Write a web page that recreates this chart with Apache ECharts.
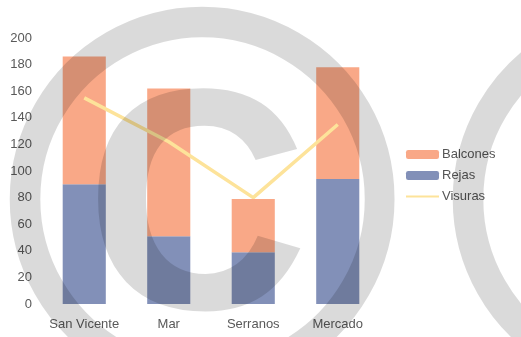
<!DOCTYPE html>
<html>
<head>
<meta charset="utf-8">
<script src="https://cdn.jsdelivr.net/npm/echarts@6/dist/echarts.min.js"></script>
<style>
  html, body { margin: 0; padding: 0; background: #fff; }
  #chart { width: 521px; height: 337px; }
</style>
</head>
<body>
<div id="chart"></div>
<script>
// Obras por calle
const categories = ['San Vicente', 'Mar', 'Serranos', 'Mercado'];
const rejas = [90, 51, 39, 94];
const balcones = [96, 111, 40, 84];
const visuras = [155, 122, 80, 135];
const yTicks = { min: 0, max: 200, interval: 20 };

const textColor = '#595959';
const chart = echarts.init(document.getElementById('chart'));

const mark = (x, y) => ({
  type: 'text', z: 100, silent: true, x: x, y: y,
  style: {
    text: '\u00A9', font: 'bold 545px "Liberation Sans"',
    fill: 'rgba(0,0,0,0.145)', align: 'center', verticalAlign: 'middle'
  }
});

chart.setOption({
  animation: false,
  backgroundColor: '#ffffff',
  textStyle: { fontFamily: 'Liberation Sans, Arial, sans-serif' },
  grid: { left: 42, right: 141, top: 38, bottom: 33 },
  legend: {
    orient: 'vertical',
    left: 400,
    top: 143,
    itemWidth: 33,
    itemHeight: 9,
    itemGap: 8,
    data: ['Balcones', 'Rejas', { name: 'Visuras', itemStyle: { opacity: 0 } }],
    textStyle: { color: '#555555', fontSize: 13, padding: [0, 0, 0, -2] }
  },
  xAxis: {
    type: 'category',
    data: categories,
    axisLine: { show: false },
    axisTick: { show: false },
    axisLabel: { color: textColor, fontSize: 13, margin: 14, interval: 0 }
  },
  yAxis: {
    type: 'value',
    min: yTicks.min,
    max: yTicks.max,
    interval: yTicks.interval,
    splitLine: { show: false },
    axisLine: { show: false },
    axisTick: { show: false },
    axisLabel: { color: textColor, fontSize: 13, margin: 10 }
  },
  series: [
    {
      name: 'Rejas', type: 'bar', stack: 'total', data: rejas,
      barWidth: '51%', itemStyle: { color: '#8290B8' }
    },
    {
      name: 'Balcones', type: 'bar', stack: 'total', data: balcones,
      barWidth: '51%', itemStyle: { color: '#F9A887' }
    },
    {
      name: 'Visuras', type: 'line', data: visuras, symbol: 'none', z: 5,
      lineStyle: { color: '#FDE39A', width: 3.5 }, itemStyle: { color: '#FDE39A' }
    }
  ],
  graphic: [mark(202, 237), mark(645, 237)]
});
</script>
</body>
</html>
